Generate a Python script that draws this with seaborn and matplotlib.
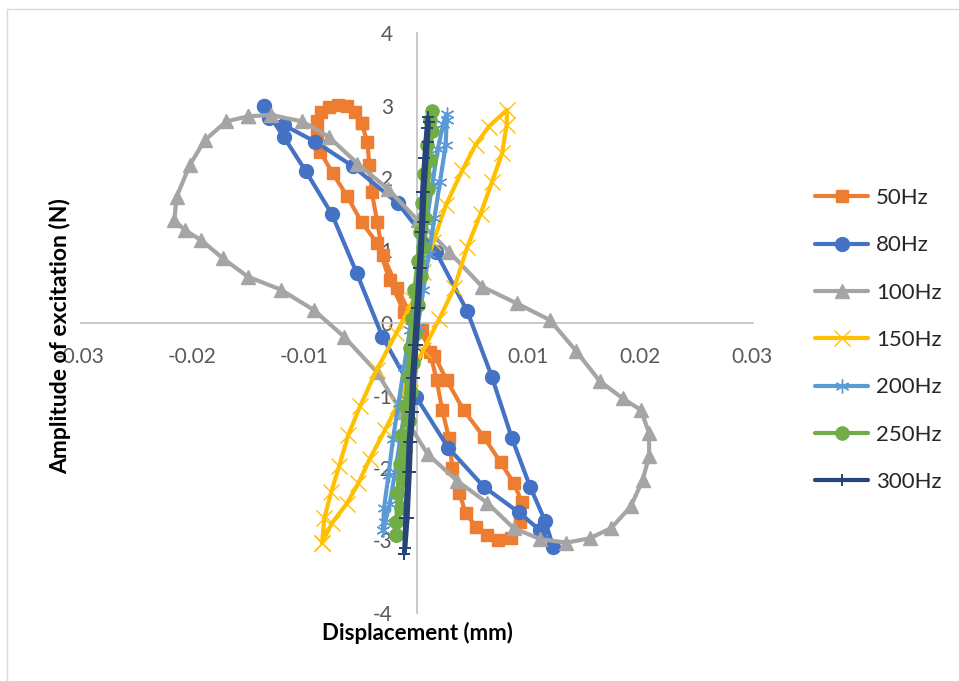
import matplotlib
matplotlib.use("Agg")
import matplotlib.pyplot as plt
import seaborn as sns
from matplotlib.lines import Line2D

sns.set_theme(style="white")
plt.rcParams["font.family"] = ["Lato", "DejaVu Sans"]
plt.rcParams["axes.unicode_minus"] = False

# ---------------- data ----------------
x50 = [-0.0049, -0.0055, -0.0062, -0.0070, -0.0078, -0.0085, -0.0089, -0.0089, -0.0086, -0.0075,
       -0.0062, -0.0049, -0.0035, -0.0024, -0.0011, 0.0005, 0.0012, 0.0018, 0.0023, 0.0029,
       0.0032, 0.0038, 0.0044, 0.0053, 0.0063, 0.0073, 0.0084, 0.0092, 0.0094, 0.0087,
       0.0075, 0.0060, 0.0042, 0.0027, 0.0016, -0.0004, -0.0017, -0.0030, -0.0035, -0.0040,
       -0.0042, -0.0044, -0.0049]
y50 = [2.76, 2.91, 2.99, 3.01, 2.98, 2.91, 2.79, 2.61, 2.36, 2.07,
       1.75, 1.39, 1.10, 0.59, 0.15, -0.10, -0.40, -0.79, -1.20, -1.59,
       -2.00, -2.34, -2.62, -2.81, -2.92, -2.99, -2.97, -2.74, -2.47, -2.21,
       -1.92, -1.57, -1.20, -0.79, -0.45, 0.07, 0.48, 0.94, 1.39, 1.81,
       2.18, 2.50, 2.76]

x80 = [-0.01366, -0.01186, -0.00991, -0.00755, -0.00534, -0.00304, -0.00003, 0.00283, 0.00602, 0.00912,
       0.01104, 0.01221, 0.01148, 0.01015, 0.00852, 0.00675, 0.00454, 0.00174, -0.00165, -0.00566,
       -0.00903, -0.01186, -0.01319, -0.01366]
y80 = [2.99, 2.57, 2.10, 1.50, 0.69, -0.19, -1.02, -1.72, -2.26, -2.61,
       -2.86, -3.09, -2.73, -2.26, -1.59, -0.75, 0.16, 0.98, 1.65, 2.16,
       2.50, 2.73, 2.83, 2.99]

x100 = [-0.01507, -0.01301, -0.01020, -0.00785, -0.00527, -0.00257, 0.0001, 0.00292, 0.00587, 0.00896,
        0.01192, 0.01427, 0.01635, 0.01841, 0.02003, 0.02077, 0.02077, 0.02018, 0.01914, 0.01737,
        0.01546, 0.01339, 0.01104, 0.00867, 0.00631, 0.00365, 0.0010, -0.00133, -0.00357, -0.00646,
        -0.00918, -0.01212, -0.01507, -0.01728, -0.01920, -0.02068, -0.02162, -0.02142, -0.02024, -0.01891,
        -0.01699, -0.01507]
y100 = [2.85, 2.87, 2.78, 2.57, 2.20, 1.85, 1.42, 0.98, 0.50, 0.27,
        0.04, -0.39, -0.80, -1.04, -1.20, -1.52, -1.84, -2.17, -2.53, -2.83,
        -2.97, -3.03, -2.98, -2.83, -2.48, -2.18, -1.81, -1.23, -0.67, -0.19,
        0.18, 0.46, 0.64, 0.89, 1.14, 1.28, 1.42, 1.74, 2.18, 2.52,
        2.78, 2.85]

x150 = [-0.00843, -0.00823, -0.00761, -0.00690, -0.00608, -0.00504, -0.00357, -0.00180, -0.00027, 0.0006,
        0.00150, 0.00263, 0.00410, 0.00528, 0.00646, 0.00808, 0.00805, 0.00764, 0.00675, 0.00573,
        0.00454, 0.00336, 0.00204, 0.00062, -0.00062, -0.00168, -0.00283, -0.00416, -0.00519, -0.00622,
        -0.00755, -0.00843]
y150 = [-3.03, -2.69, -2.33, -1.97, -1.54, -1.15, -0.65, -0.14, 0.32, 0.70,
        1.12, 1.63, 2.11, 2.46, 2.71, 2.94, 2.73, 2.34, 1.95, 1.51,
        1.05, 0.48, 0.06, -0.37, -0.76, -1.13, -1.48, -1.87, -2.21, -2.49,
        -2.76, -3.03]

x200 = [-0.0030, -0.0029, -0.0025, -0.0021, -0.0016, -0.0011, -0.0006, -0.0001, 0.0004, 0.0009,
        0.0014, 0.0019, 0.0024, 0.0027, 0.0027, 0.0026, 0.0021, 0.0016, 0.0011, 0.0006,
        0.0001, -0.0004, -0.0009, -0.0014, -0.0019, -0.0024, -0.0028, -0.0030]
y200 = [-2.86, -2.55, -2.10, -1.60, -1.10, -0.60, -0.10, 0.40, 0.90, 1.40,
        1.90, 2.40, 2.75, 2.88, 2.80, 2.45, 1.95, 1.45, 0.95, 0.45,
        -0.05, -0.55, -1.05, -1.55, -2.05, -2.50, -2.75, -2.86]

x250 = [-0.0018, -0.0014, -0.0012, -0.0010, -0.0007, -0.0005, -0.0003, -0.0001, 0.0001, 0.0004,
        0.0006, 0.0008, 0.0010, 0.0012, 0.0014, 0.0014, 0.0012, 0.0009, 0.0007, 0.0005,
        0.0003, 0.0001, -0.0002, -0.0004, -0.0006, -0.0008, -0.0010, -0.0013, -0.0015, -0.0017,
        -0.0018, -0.0018]
y250 = [-2.92, -2.55, -2.15, -1.75, -1.35, -0.95, -0.55, -0.15, 0.25, 0.65,
        1.05, 1.45, 1.85, 2.25, 2.65, 2.93, 2.80, 2.45, 2.05, 1.65,
        1.25, 0.85, 0.45, 0.05, -0.35, -0.75, -1.15, -1.55, -1.95, -2.35,
        -2.75, -2.92]

x300 = [-0.0011, -0.0010, -0.0008, -0.0007, -0.0005, -0.0004, -0.0002, 0.0000, 0.0002, 0.0004,
        0.0005, 0.0007, 0.0009, 0.0010, 0.0011, 0.0010, 0.0007, 0.0006, 0.0004, 0.0002,
        0.0000, -0.0002, -0.0003, -0.0005, -0.0006, -0.0008, -0.0010, -0.0011]
y300 = [-3.18, -2.69, -2.06, -1.64, -1.23, -0.76, -0.30, 0.21, 0.76, 1.26,
        1.81, 2.28, 2.69, 2.84, 2.77, 2.50, 1.81, 1.39, 0.76, 0.21,
        -0.30, -0.76, -1.23, -1.64, -2.06, -2.69, -3.10, -3.18]

labels = ["50Hz", "80Hz", "100Hz", "150Hz", "200Hz", "250Hz", "300Hz"]
xticks = [-0.03, -0.02, -0.01, 0, 0.01, 0.02, 0.03]
xticklabels = ["-0.03", "-0.02", "-0.01", "0", "0.01", "0.02", "0.03"]
yticks = [-4, -3, -2, -1, 0, 1, 2, 3, 4]
yticklabels = ["-4", "-3", "-2", "-1", "0", "1", "2", "3", "4"]

# ---------------- styles ----------------
series = [
    (x50, y50, "#ED7D31", "s", 9.0, 1.0),
    (x80, y80, "#4472C4", "o", 10.0, 1.0),
    (x100, y100, "#A5A5A5", "^", 10.0, 1.0),
    (x150, y150, "#FFC000", "x", 11.0, 1.0),
    (x200, y200, "#5B9BD5", (6, 2, 0), 10.0, 1.0),
    (x250, y250, "#70AD47", "o", 9.5, 1.0),
    (x300, y300, "#264478", "+", 9.0, 1.4),
]

W, H = 959, 681
fig = plt.figure(figsize=(W / 100, H / 100), dpi=100)
L, R, T, B = 80.5, 752.5, 33, 613
ax = fig.add_axes([L / W, 1 - B / H, (R - L) / W, (B - T) / H])

for (xs, ys, col, mk, ms, mew), lab in zip(series, labels):
    sns.lineplot(x=xs, y=ys, ax=ax, sort=False, estimator=None, color=col,
                 marker=mk, markersize=ms, markeredgecolor=col, markerfacecolor=col,
                 markeredgewidth=mew, linewidth=3.0, label=lab, zorder=3)

ax.set_xlim(-0.03, 0.03)
ax.set_ylim(-4, 4)
ax.set_xticks(xticks)
ax.set_xticklabels(xticklabels)
ax.set_yticks(yticks)
ax.set_yticklabels(yticklabels)
ax.tick_params(length=0, labelsize=15, labelcolor="#595959")
ax.tick_params(axis="x", pad=17)
ax.tick_params(axis="y", pad=17)
for s in ["top", "right"]:
    ax.spines[s].set_visible(False)
ax.spines["left"].set_position(("data", 0))
ax.spines["bottom"].set_position(("data", 0))
for s in ["left", "bottom"]:
    ax.spines[s].set_color("#BFBFBF")
    ax.spines[s].set_linewidth(1.2)
    ax.spines[s].set_zorder(1)
ax.set_xlabel("")
ax.set_ylabel("")
ax.patch.set_alpha(0)

leg = ax.legend(loc="center left", bbox_to_anchor=(815 / W, 1 - 340 / H),
                bbox_transform=fig.transFigure, frameon=False, fontsize=16,
                handlelength=2.4, handletextpad=0.35, labelspacing=1.23,
                borderpad=0, borderaxespad=0)

fig.text(417 / W, 1 - 633 / H, "Displacement (mm)", ha="center", va="center",
         fontsize=16, fontweight="bold", color="black")
fig.text(60 / W, 1 - 336 / H, "Amplitude of excitation (N)", ha="center", va="center",
         rotation=90, fontsize=16.5, fontweight="bold", color="black")

fig.add_artist(Line2D([7 / W, 7 / W], [0, 1 - 9 / H], transform=fig.transFigure,
                      color="#D9D9D9", lw=1))
fig.add_artist(Line2D([7 / W, 1], [1 - 9 / H, 1 - 9 / H], transform=fig.transFigure,
                      color="#D9D9D9", lw=1))

fig.savefig("out.png", dpi=100, facecolor="white")
